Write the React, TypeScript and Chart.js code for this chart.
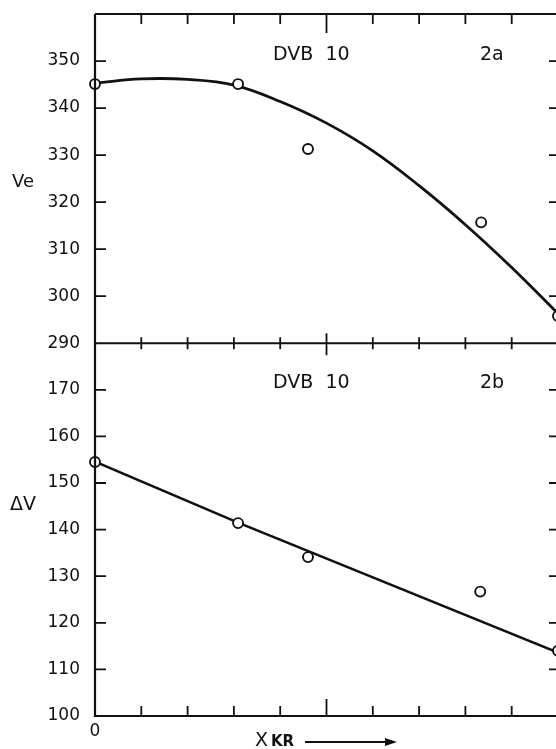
import React, { useEffect, useRef } from "react";
import { Chart, registerables } from "chart.js";

Chart.register(...registerables);

// Panel 2a: Ve vs X KR
const curveX = [0, 1, 2, 3, 4, 5, 6, 7, 8, 9, 10];
const curveVe = [345.3, 346.2, 346.1, 344.9, 341.4, 336.8, 330.9, 323.5, 315.2, 306.1, 296.3];
const pointsX2a = [0, 3.09, 4.6, 8.34, 10];
const pointsVe = [345.1, 345.1, 331.3, 315.7, 295.8];

// Panel 2b: ΔV vs X KR
const lineX = [0, 3.09, 10];
const lineDV = [154.6, 141.5, 113.6];
const pointsX2b = [0, 3.09, 4.6, 8.32, 10];
const pointsDV = [154.5, 141.4, 134.1, 126.7, 114.0];

// axes
const xMin = 0;
const xMax = 10;
const xTickValues = [1, 2, 3, 4, 5, 6, 7, 8, 9];
const veMin = 290;
const veMax = 360;
const veTicks = [300, 310, 320, 330, 340, 350];
const dvMin = 100;
const dvMax = 180;
const dvTicks = [110, 120, 130, 140, 150, 160, 170];

const FONT = "'DejaVu Sans', sans-serif";
const INK = "#111";

const framePlugin = {
  id: "frameAndTicks",
  afterDraw(chart: any) {
    const { ctx, chartArea: ca, scales } = chart;
    const x = scales.x;
    const yT = scales.yTop;
    const yB = scales.yBot;
    const divY = yT.bottom;
    ctx.save();
    ctx.strokeStyle = INK;
    ctx.lineWidth = 2.2;
    ctx.lineCap = "butt";
    // frame
    ctx.beginPath();
    ctx.moveTo(ca.left, ca.top);
    ctx.lineTo(ca.right, ca.top);
    ctx.moveTo(ca.left, ca.top);
    ctx.lineTo(ca.left, ca.bottom);
    ctx.lineTo(ca.right, ca.bottom);
    ctx.moveTo(ca.right, ca.top);
    ctx.lineTo(ca.right, ca.bottom);
    ctx.moveTo(ca.left, divY);
    ctx.lineTo(ca.right, divY);
    ctx.stroke();
    // x ticks
    ctx.lineWidth = 1.8;
    ctx.beginPath();
    for (const v of xTickValues) {
      const px = x.getPixelForValue(v);
      const long = v === 5;
      ctx.moveTo(px, ca.top);
      ctx.lineTo(px, ca.top + (long ? 19 : 10));
      ctx.moveTo(px, divY - (long ? 10 : 6));
      ctx.lineTo(px, divY + (long ? 12 : 6));
      ctx.moveTo(px, ca.bottom);
      ctx.lineTo(px, ca.bottom - (long ? 17 : 10));
    }
    // y ticks
    for (const v of veTicks) {
      const py = yT.getPixelForValue(v);
      ctx.moveTo(ca.left, py);
      ctx.lineTo(ca.left + 11, py);
      ctx.moveTo(ca.right, py);
      ctx.lineTo(ca.right - 9, py);
    }
    for (const v of dvTicks) {
      const py = yB.getPixelForValue(v);
      ctx.moveTo(ca.left, py);
      ctx.lineTo(ca.left + 11, py);
      ctx.moveTo(ca.right, py);
      ctx.lineTo(ca.right - 9, py);
    }
    ctx.stroke();

    // texts
    ctx.fillStyle = INK;
    ctx.textBaseline = "middle";
    ctx.textAlign = "left";
    ctx.font = `19px ${FONT}`;
    ctx.fillText("DVB  10", 273, 55);
    ctx.fillText("2a", 480, 55);
    ctx.fillText("DVB  10", 273, 383);
    ctx.fillText("2b", 480, 383);
    ctx.font = `18px ${FONT}`;
    ctx.fillText("Ve", 12, 182);
    ctx.font = `19px ${FONT}`;
    ctx.fillText("ΔV", 10, 505);
    // x axis title
    ctx.font = `19px ${FONT}`;
    ctx.fillText("X", 255, 741);
    ctx.font = `bold 15px ${FONT}`;
    ctx.fillText("KR", 271, 742);
    ctx.lineWidth = 1.8;
    ctx.beginPath();
    ctx.moveTo(305, 742);
    ctx.lineTo(392, 742);
    ctx.stroke();
    ctx.beginPath();
    ctx.moveTo(397, 742);
    ctx.lineTo(385, 738);
    ctx.lineTo(385, 746);
    ctx.closePath();
    ctx.fill();
    ctx.restore();
  },
};

const toXY = (xs: number[], ys: number[]) => xs.map((v, i) => ({ x: v, y: ys[i] }));

const fitY = (s: any) => {
  s.width = 95;
  s.paddingTop = 0;
  s.paddingBottom = 0;
};

export default function App() {
  const ref = useRef<HTMLCanvasElement | null>(null);
  useEffect(() => {
    document.body.style.margin = "0";
    const canvas = ref.current;
    if (!canvas) return;
    const tickFont = { family: FONT, size: 17 };
    const chart = new Chart(canvas, {
      type: "line",
      data: {
        datasets: [
          {
            type: "scatter",
            data: toXY(pointsX2a, pointsVe),
            yAxisID: "yTop",
            showLine: false,
            pointRadius: 5,
            pointBorderWidth: 1.9,
            pointBorderColor: INK,
            pointBackgroundColor: "#fff",
            clip: false,
          } as any,
          {
            type: "scatter",
            data: toXY(pointsX2b, pointsDV),
            yAxisID: "yBot",
            showLine: false,
            pointRadius: 5,
            pointBorderWidth: 1.9,
            pointBorderColor: INK,
            pointBackgroundColor: "#fff",
            clip: false,
          } as any,
          {
            type: "line",
            data: toXY(curveX, curveVe),
            yAxisID: "yTop",
            borderColor: INK,
            borderWidth: 2.8,
            pointRadius: 0,
            tension: 0.4,
            fill: false,
          } as any,
          {
            type: "line",
            data: toXY(lineX, lineDV),
            yAxisID: "yBot",
            borderColor: INK,
            borderWidth: 2.6,
            pointRadius: 0,
            tension: 0,
            fill: false,
          } as any,
        ],
      },
      options: {
        animation: false,
        responsive: false,
        devicePixelRatio: 1,
        layout: { padding: { top: 14, right: 12, left: 0, bottom: 0 } },
        plugins: { legend: { display: false }, tooltip: { enabled: false } },
        scales: {
          x: {
            type: "linear",
            min: xMin,
            max: xMax,
            grid: { display: false, drawTicks: false },
            border: { display: false },
            ticks: {
              stepSize: 1,
              font: tickFont,
              color: INK,
              padding: 5,
              maxRotation: 0,
              autoSkip: false,
              callback: (v: any) => (v === 0 ? "0" : ""),
            },
            afterFit: (s: any) => {
              s.height = 33;
              s.paddingLeft = 0;
              s.paddingRight = 0;
            },
          },
          yBot: {
            type: "linear",
            position: "left",
            stack: "v",
            stackWeight: 0.531,
            min: dvMin,
            max: dvMax,
            grid: { display: false, drawTicks: false },
            border: { display: false },
            ticks: {
              stepSize: 10,
              font: tickFont,
              color: INK,
              padding: 15,
              callback: (v: any) => (v === dvMax ? "" : String(v)),
            },
            afterFit: fitY,
          },
          yTop: {
            type: "linear",
            position: "left",
            stack: "v",
            stackWeight: 0.469,
            min: veMin,
            max: veMax,
            grid: { display: false, drawTicks: false },
            border: { display: false },
            ticks: {
              stepSize: 10,
              font: tickFont,
              color: INK,
              padding: 15,
              callback: (v: any) => (v === veMax ? "" : String(v)),
            },
            afterFit: fitY,
          },
        },
      } as any,
      plugins: [framePlugin],
    });
    return () => chart.destroy();
  }, []);
  return (
    <div style={{ width: 556, height: 749, overflow: "hidden", position: "relative", background: "#fff" }}>
      <canvas ref={ref} width={570} height={749} style={{ display: "block", width: 570, height: 749 }} />
    </div>
  );
}
